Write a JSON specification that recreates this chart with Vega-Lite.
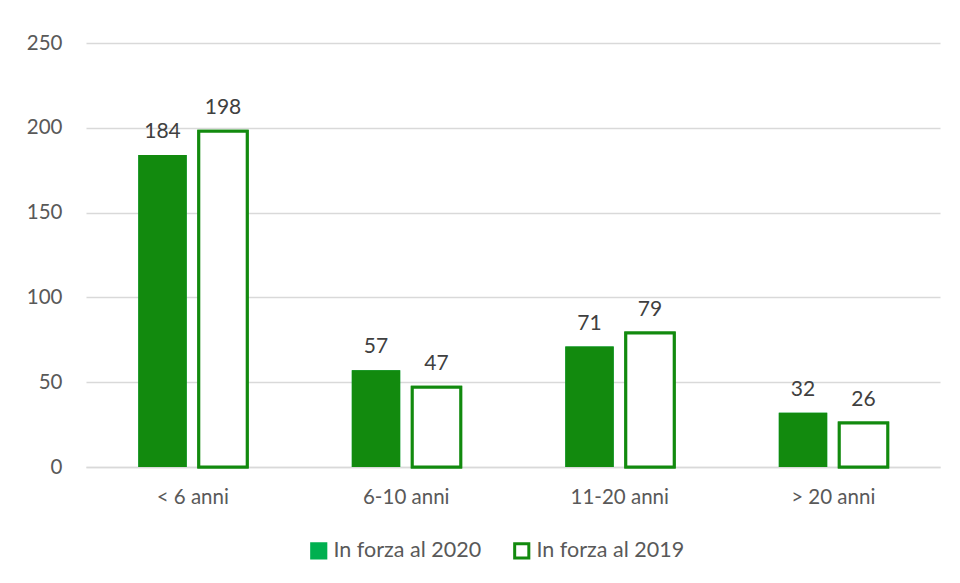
{
  "$schema": "https://vega.github.io/schema/vega-lite/v6.json",
  "width": 854,
  "height": 424,
  "autosize": {"type": "none"},
  "padding": {"left": 86, "top": 43, "right": 20, "bottom": 116},
  "background": "#ffffff",
  "config": {
    "font": "Lato",
    "view": {"stroke": null},
    "axis": {"labelFont": "Lato", "labelColor": "#595959", "labelFontSize": 20.5, "ticks": false, "title": null}
  },
  "data": {
    "values": [
      {"cat": "< 6 anni", "serie": "In forza al 2020", "value": 184},
      {"cat": "< 6 anni", "serie": "In forza al 2019", "value": 198},
      {"cat": "6-10 anni", "serie": "In forza al 2020", "value": 57},
      {"cat": "6-10 anni", "serie": "In forza al 2019", "value": 47},
      {"cat": "11-20 anni", "serie": "In forza al 2020", "value": 71},
      {"cat": "11-20 anni", "serie": "In forza al 2019", "value": 79},
      {"cat": "> 20 anni", "serie": "In forza al 2020", "value": 32},
      {"cat": "> 20 anni", "serie": "In forza al 2019", "value": 26}
    ]
  },
  "encoding": {
    "x": {
      "field": "cat", "type": "nominal",
      "sort": ["< 6 anni", "6-10 anni", "11-20 anni", "> 20 anni"],
      "scale": {"paddingInner": 0.49, "paddingOuter": 0.245},
      "axis": {"labelAngle": 0, "labelPadding": 20, "domainColor": "#D9D9D9", "domainWidth": 1.5}
    },
    "xOffset": {
      "field": "serie", "type": "nominal",
      "sort": ["In forza al 2020", "In forza al 2019"],
      "scale": {"paddingInner": 0.2, "paddingOuter": 0}
    },
    "y": {
      "field": "value", "type": "quantitative",
      "scale": {"domain": [0, 250]},
      "axis": {"values": [0, 50, 100, 150, 200, 250], "domain": false, "gridColor": "#D9D9D9", "gridWidth": 1.5, "labelPadding": 24}
    }
  },
  "layer": [
    {
      "mark": {"type": "bar", "strokeWidth": 3},
      "encoding": {
        "fill": {
          "field": "serie", "type": "nominal",
          "sort": ["In forza al 2020", "In forza al 2019"],
          "scale": {"domain": ["In forza al 2020", "In forza al 2019"], "range": ["#00B050", "#FFFFFF"]},
          "legend": {
            "title": null, "orient": "none", "direction": "horizontal",
            "legendX": 222, "legendY": 497,
            "symbolType": "square", "symbolSize": 200, "symbolStrokeWidth": 3,
            "labelFont": "Lato", "labelFontSize": 21.5, "labelColor": "#595959",
            "columnPadding": 26, "labelOffset": 4
          }
        },
        "stroke": {
          "field": "serie", "type": "nominal",
          "scale": {"domain": ["In forza al 2020", "In forza al 2019"], "range": ["#00B050", "#128A0E"]},
          "legend": null
        },
        "strokeOpacity": {"condition": {"test": "datum.serie == 'In forza al 2020'", "value": 0}, "value": 1}
      }
    },
    {
      "mark": {"type": "bar", "strokeWidth": 3},
      "encoding": {
        "fill": {"condition": {"test": "datum.serie == 'In forza al 2020'", "value": "#128A0E"}, "value": "#FFFFFF"},
        "stroke": {"value": "#128A0E"},
        "strokeOpacity": {"condition": {"test": "datum.serie == 'In forza al 2020'", "value": 0}, "value": 1}
      }
    },
    {
      "mark": {"type": "text", "baseline": "bottom", "dy": -13, "fontSize": 21, "color": "#404040", "font": "Lato"},
      "encoding": {"text": {"field": "value", "type": "quantitative"}}
    }
  ]
}
